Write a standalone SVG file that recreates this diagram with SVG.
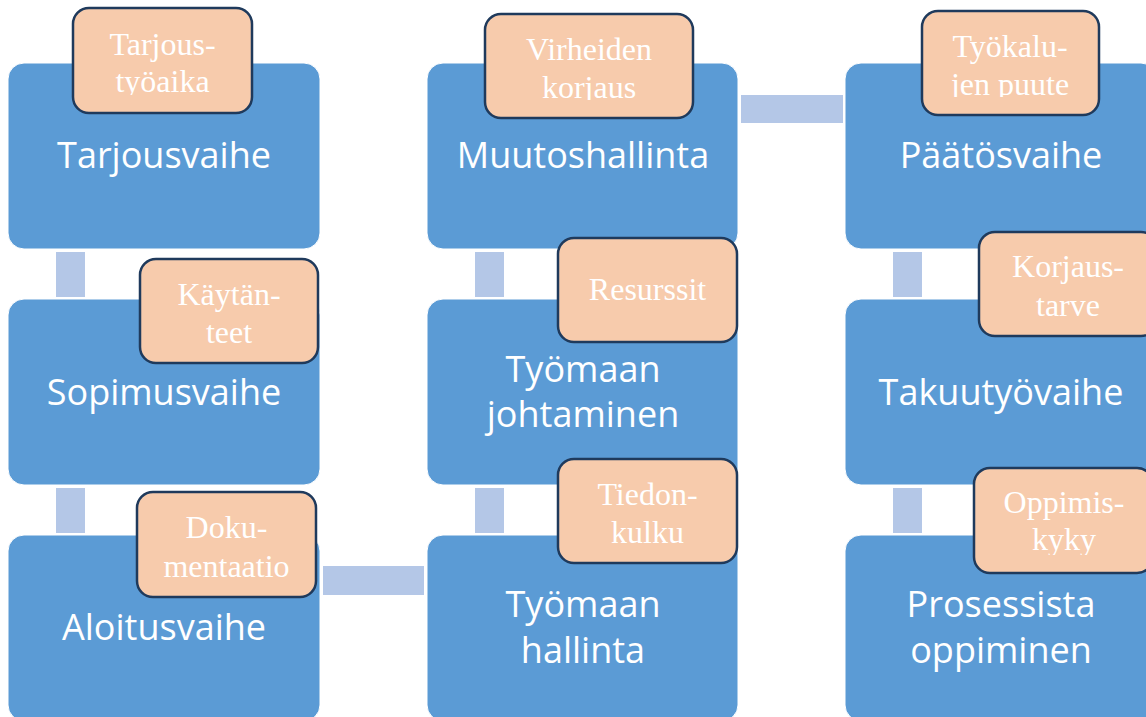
<svg xmlns="http://www.w3.org/2000/svg" width="1146" height="717" viewBox="0 0 1146 717">
<style>
.stage{fill:#5B9BD5;stroke:#ffffff;stroke-width:1}
.conn{fill:#B4C7E7}
.lab{fill:#F7CBAC;stroke:#1F3A5C;stroke-width:2.5}
.st{font-family:"Open Sans","Noto Sans",sans-serif;font-size:36px;fill:#ffffff;text-anchor:middle}
.lt{font-family:"Liberation Serif","Times New Roman",serif;font-size:32px;fill:#ffffff;text-anchor:middle}
</style>
<defs>
<clipPath id="c1"><rect x="73" y="8" width="179" height="87"/></clipPath>
<clipPath id="c2"><rect x="485" y="14" width="208" height="86"/></clipPath>
<clipPath id="c3"><rect x="922" y="11" width="177" height="86"/></clipPath>
<clipPath id="c4"><rect x="140" y="259" width="178" height="86"/></clipPath>
<clipPath id="c5"><rect x="558" y="238" width="179" height="86"/></clipPath>
<clipPath id="c6"><rect x="979" y="232" width="178" height="86"/></clipPath>
<clipPath id="c7"><rect x="137" y="492" width="179" height="87"/></clipPath>
<clipPath id="c8"><rect x="558" y="459" width="179" height="86"/></clipPath>
<clipPath id="c9"><rect x="974" y="468" width="179" height="87"/></clipPath>
</defs>
<rect width="1146" height="717" fill="#ffffff"/>
<g id="connectors">
<rect class="conn" x="56" y="252" width="29" height="45"/>
<rect class="conn" x="56" y="488" width="29" height="45"/>
<rect class="conn" x="323" y="566" width="101" height="29"/>
<rect class="conn" x="475" y="488" width="29" height="45"/>
<rect class="conn" x="475" y="252" width="29" height="45"/>
<rect class="conn" x="741" y="95" width="102" height="28"/>
<rect class="conn" x="893" y="252" width="29" height="45"/>
<rect class="conn" x="893" y="488" width="29" height="45"/>
</g>
<g id="tarjousvaihe"><rect class="stage" x="8" y="63" width="312" height="186" rx="16"/><text class="st" x="164" y="168">Tarjousvaihe</text></g>
<g id="sopimusvaihe"><rect class="stage" x="8" y="299" width="312" height="186" rx="16"/><text class="st" x="164" y="405">Sopimusvaihe</text></g>
<g id="aloitusvaihe"><rect class="stage" x="8" y="535" width="312" height="186" rx="16"/><text class="st" x="164" y="640">Aloitusvaihe</text></g>
<g id="muutoshallinta"><rect class="stage" x="427" y="63" width="311" height="186" rx="16"/><text class="st" x="583" y="168">Muutoshallinta</text></g>
<g id="tyomaan-johtaminen"><rect class="stage" x="427" y="299" width="311" height="186" rx="16"/><text class="st" x="583" y="382">Työmaan</text><text class="st" x="583" y="427">johtaminen</text></g>
<g id="tyomaan-hallinta"><rect class="stage" x="427" y="535" width="311" height="186" rx="16"/><text class="st" x="583" y="617">Työmaan</text><text class="st" x="583" y="663">hallinta</text></g>
<g id="paatosvaihe"><rect class="stage" x="845" y="63" width="312" height="186" rx="16"/><text class="st" x="1001" y="168">Päätösvaihe</text></g>
<g id="takuutyovaihe"><rect class="stage" x="845" y="299" width="312" height="186" rx="16"/><text class="st" x="1001" y="405">Takuutyövaihe</text></g>
<g id="prosessista-oppiminen"><rect class="stage" x="845" y="535" width="312" height="186" rx="16"/><text class="st" x="1001" y="617">Prosessista</text><text class="st" x="1001" y="663">oppiminen</text></g>
<g id="tarjoustyoaika"><rect class="lab" x="73" y="8" width="179" height="105" rx="16"/><g clip-path="url(#c1)"><text class="lt" x="162.5" y="55">Tarjous-</text><text class="lt" x="162.5" y="92">työaika</text></g></g>
<g id="virheiden-korjaus"><rect class="lab" x="485" y="14" width="208" height="104" rx="16"/><g clip-path="url(#c2)"><text class="lt" x="589" y="60">Virheiden</text><text class="lt" x="589" y="98">korjaus</text></g></g>
<g id="tyokalujen-puute"><rect class="lab" x="922" y="11" width="177" height="104" rx="16"/><g clip-path="url(#c3)"><text class="lt" x="1010" y="57">Työkalu-</text><text class="lt" x="1010" y="95">jen puute</text></g></g>
<g id="kaytanteet"><rect class="lab" x="140" y="259" width="178" height="104" rx="16"/><g clip-path="url(#c4)"><text class="lt" x="229" y="305">Käytän-</text><text class="lt" x="229" y="343">teet</text></g></g>
<g id="resurssit"><rect class="lab" x="558" y="238" width="179" height="104" rx="16"/><g clip-path="url(#c5)"><text class="lt" x="647.5" y="300">Resurssit</text></g></g>
<g id="korjaustarve"><rect class="lab" x="979" y="232" width="178" height="104" rx="16"/><g clip-path="url(#c6)"><text class="lt" x="1068" y="277">Korjaus-</text><text class="lt" x="1068" y="316">tarve</text></g></g>
<g id="dokumentaatio"><rect class="lab" x="137" y="492" width="179" height="105" rx="16"/><g clip-path="url(#c7)"><text class="lt" x="226.5" y="538">Doku-</text><text class="lt" x="226.5" y="577">mentaatio</text></g></g>
<g id="tiedonkulku"><rect class="lab" x="558" y="459" width="179" height="104" rx="16"/><g clip-path="url(#c8)"><text class="lt" x="647.5" y="505">Tiedon-</text><text class="lt" x="647.5" y="543">kulku</text></g></g>
<g id="oppimiskyky"><rect class="lab" x="974" y="468" width="179" height="105" rx="16"/><g clip-path="url(#c9)"><text class="lt" x="1064" y="513">Oppimis-</text><text class="lt" x="1064" y="550">kyky</text></g></g>
</svg>
